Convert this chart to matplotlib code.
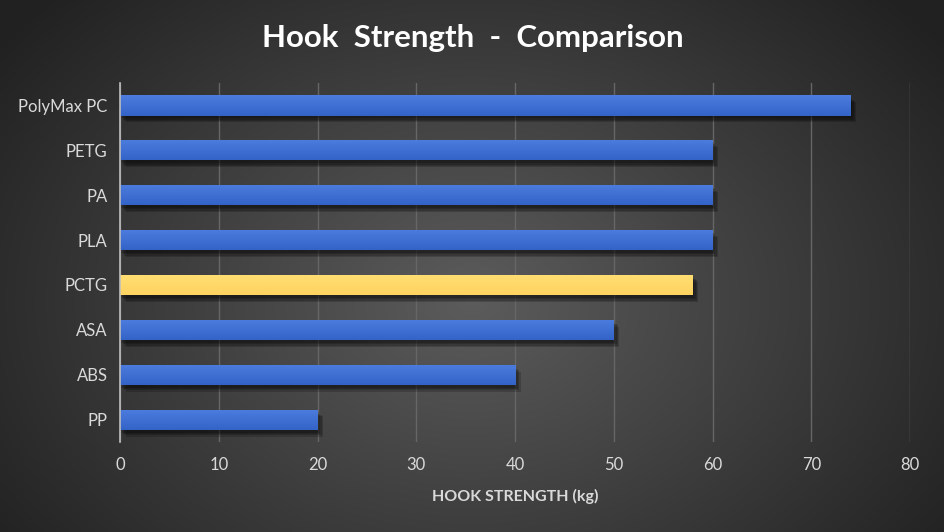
import numpy as np
import matplotlib
matplotlib.use("Agg")
from matplotlib import pyplot as plt
from matplotlib import patheffects as pe

materials = ["PolyMax PC", "PETG", "PA", "PLA", "PCTG", "ASA", "ABS", "PP"]
strength = [74, 60, 60, 60, 58, 50, 40, 20]
highlight = "PCTG"
x_ticks = [0, 10, 20, 30, 40, 50, 60, 70, 80]

plt.rcParams['font.family'] = ['Lato', 'DejaVu Sans']

fig = plt.figure(figsize=(9.45, 5.32), dpi=100)

# radial gradient background
bg = fig.add_axes([0, 0, 1, 1])
yy, xx = np.mgrid[0:532, 0:945]
r = np.sqrt(((xx - 472) / 560.0) ** 2 + ((yy - 300) / 420.0) ** 2)
shade = np.clip(0.36 - 0.22 * r, 0.13, 0.36)
bg.imshow(np.dstack([shade, shade, shade]), extent=[0, 1, 0, 1], aspect='auto')
bg.set_axis_off()

ax = fig.add_axes([0.127, 0.169, 0.836, 0.675])
ax.patch.set_alpha(0)

# soft drop shadow made of a few faint offset copies
shadow = [pe.SimplePatchShadow(offset=(o, -o - 1), shadow_rgbFace='black', alpha=0.18)
          for o in (1, 2, 3, 4)]

ypos = np.arange(len(materials))[::-1]
for y, name, val in zip(ypos, materials, strength):
    if name == highlight:
        top, bot = np.array([1.0, 0.87, 0.45]), np.array([1.0, 0.83, 0.38])
    else:
        top, bot = np.array([0.30, 0.49, 0.87]), np.array([0.20, 0.39, 0.78])
    bar = ax.barh(y, val, height=0.45, color=bot, zorder=3)[0]
    bar.set_path_effects(shadow + [pe.Normal()])
    # vertical gradient inside the bar
    t = np.linspace(0, 1, 40)[:, None]
    grad = top * (1 - t[..., None]) + bot * t[..., None]
    grad = np.repeat(grad, 2, axis=1)
    im = ax.imshow(grad, extent=[0, val, y - 0.225, y + 0.225], aspect='auto', zorder=4, origin='upper')
    im.set_clip_path(bar)

ax.set_xlim(0, 80)
ax.set_ylim(-0.5, len(materials) - 0.5)
ax.set_xticks(x_ticks)
ax.set_yticks(ypos)
ax.set_yticklabels(materials)
ax.grid(axis='x', color='#666666', linewidth=1.0, zorder=0)
ax.set_axisbelow(True)
for s in ['top', 'right', 'bottom']:
    ax.spines[s].set_visible(False)
ax.spines['left'].set_color('#bfbfbf')
ax.spines['left'].set_linewidth(1.2)
ax.spines['left'].set_zorder(5)
ax.tick_params(axis='both', length=0, colors='#d9d9d9', labelsize=12)
ax.tick_params(axis='x', pad=11)
ax.tick_params(axis='y', pad=9)

ax.set_xlabel("HOOK STRENGTH (kg)", color='#d9d9d9', fontsize=11.5, fontweight='bold', labelpad=11)

fig.text(0.5, 0.928, "Hook  Strength  -  Comparison", color='white', fontsize=22.5, fontweight='bold',
         ha='center', va='center')

fig.savefig("out.png", dpi=100)
